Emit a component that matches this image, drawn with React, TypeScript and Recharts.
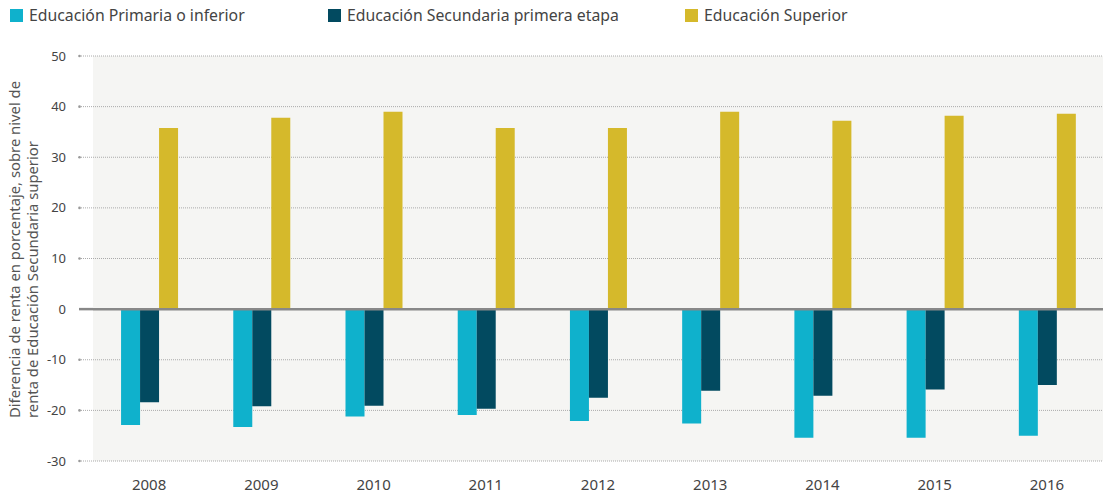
import React from 'react';
import { BarChart, Bar, XAxis, YAxis, CartesianGrid, ReferenceLine, Legend } from 'recharts';

const years = ['2008', '2009', '2010', '2011', '2012', '2013', '2014', '2015', '2016'];
const primaria = [-22.9, -23.3, -21.2, -20.9, -22.1, -22.6, -25.4, -25.4, -25.0];
const secundaria = [-18.4, -19.2, -19.1, -19.7, -17.5, -16.1, -17.1, -15.9, -15.0];
const superior = [35.8, 37.8, 39.0, 35.8, 35.8, 39.0, 37.2, 38.2, 38.6];
const yTicks = [-30, -20, -10, 0, 10, 20, 30, 40, 50];
const seriesNames = ['Educación Primaria o inferior', 'Educación Secundaria primera etapa', 'Educación Superior'];
const seriesColors = ['#0fb1cc', '#024a60', '#d5b92b'];
const yLabelLines = ['Diferencia de renta en porcentaje, sobre nivel de', 'renta de Educación Secundaria superior'];

const data = years.map((y, i) => ({ year: y, primaria: primaria[i], secundaria: secundaria[i], superior: superior[i] }));

const FONT = '"Noto Sans", "Open Sans", sans-serif';
const legendLeft = [10, 328, 685];

const YTick = (props: any) => {
  const { x, y, payload } = props;
  const isZero = payload.value === 0;
  return (
    <g>
      <line x1={x + 13} x2={x + 27} y1={y} y2={y} stroke={isZero ? '#888' : '#aaa'} strokeWidth={isZero ? 2.5 : 1} strokeDasharray={isZero ? undefined : '1 1'} />
      {!isZero && <circle cx={x + 13.5} cy={y} r={1.3} fill="#999" />}
      <text x={x} y={y} dy={4.5} textAnchor="end" fontSize={13} fill="#444" fontFamily={FONT}>{payload.value}</text>
    </g>
  );
};

const XTick = (props: any) => {
  const { x, y, payload } = props;
  return (
    <text x={x} y={y + 21} textAnchor="middle" fontSize={15} fill="#444" fontFamily={FONT}>{payload.value}</text>
  );
};

const YLabel = () => (
  <g fontFamily={FONT} fontSize={14.8} fill="#555">
    <text x={-418} y={20} transform="rotate(-90)" textAnchor="start">{yLabelLines[0]}</text>
    <text x={-418} y={38} transform="rotate(-90)" textAnchor="start">{yLabelLines[1]}</text>
  </g>
);

const LegendContent = () => (
  <div style={{ position: 'relative', height: 30, width: 1103, fontFamily: FONT }}>
    {seriesNames.map((n, i) => (
      <div key={n} style={{ position: 'absolute', left: legendLeft[i], top: 5, display: 'flex', alignItems: 'center' }}>
        <span style={{ display: 'inline-block', width: 13, height: 13, background: seriesColors[i], marginRight: 6 }} />
        <span style={{ fontSize: 15.8, color: '#444', lineHeight: '20px' }}>{n}</span>
      </div>
    ))}
  </div>
);

export default function App() {
  return (
    <div style={{ position: 'absolute', left: 0, top: 0, width: 1103, height: 495, background: '#fff' }}>
      <BarChart
        width={1103}
        height={495}
        data={data}
        margin={{ top: 26, right: 0, bottom: 0, left: 0 }}
        barCategoryGap="25%"
        barGap={0}
        style={{ fontFamily: FONT }}
      >
        <Legend verticalAlign="top" align="left" wrapperStyle={{ top: 0, left: 0 }} content={LegendContent} height={30} />
        <CartesianGrid vertical={false} fill="#f5f5f3" stroke="#aaa" strokeDasharray="1 1" />
        <XAxis dataKey="year" axisLine={false} tickLine={false} height={34} tick={XTick} interval={0} />
        <YAxis
          domain={[-30, 50]}
          ticks={yTicks}
          width={93}
          axisLine={false}
          tickLine={false}
          tickSize={14}
          tickMargin={13}
          tick={YTick}
          interval={0}
          label={{ content: YLabel }}
        />
        <Bar dataKey="primaria" name={seriesNames[0]} fill={seriesColors[0]} isAnimationActive={false} />
        <Bar dataKey="secundaria" name={seriesNames[1]} fill={seriesColors[1]} isAnimationActive={false} />
        <Bar dataKey="superior" name={seriesNames[2]} fill={seriesColors[2]} isAnimationActive={false} />
        <ReferenceLine y={0} stroke="#888" strokeWidth={2.5} />
      </BarChart>
    </div>
  );
}
